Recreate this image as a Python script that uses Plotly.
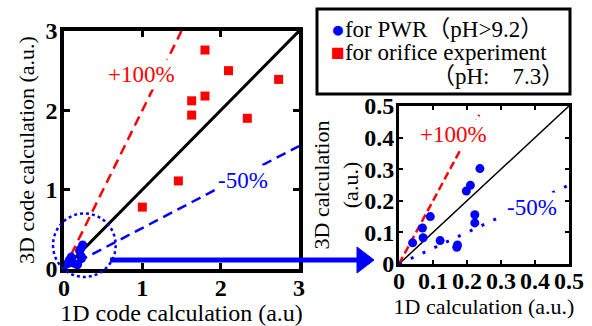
import plotly.graph_objects as go

W, H = 592, 326

# ---------------- data ----------------
# PWR data (pH > 9.2), 1D vs 3D calculation (a.u.)
pwr_1d = [0.040, 0.069, 0.071, 0.092, 0.121, 0.170, 0.172, 0.198, 0.210, 0.223, 0.223, 0.238]
pwr_3d = [0.067, 0.114, 0.083, 0.150, 0.074, 0.053, 0.060, 0.231, 0.249, 0.156, 0.130, 0.302]

# orifice experiment data (pH 7.3)
ori_1d = [1.00, 1.46, 1.63, 1.63, 1.80, 1.80, 2.10, 2.34, 2.74]
ori_3d = [0.78, 1.11, 2.12, 1.94, 2.76, 2.18, 2.50, 1.90, 2.39]

# reference lines (left panel)
L_line_x = [0, 3]
L_line_y = [0, 3]
L_p100_x = [0, 1.5]
L_p100_y = [0, 3]
L_m50_x = [0, 3]
L_m50_y = [0, 1.55]

# reference lines (right panel)
R_line_x = [0, 0.5]
R_line_y = [0, 0.5]
R_p100_x = [0, 0.236]
R_p100_y = [0, 0.472]
R_m50_x = [0, 0.5]
R_m50_y = [0, 0.25]

L_ticks = [0, 1, 2, 3]
R_ticks = [0, 0.1, 0.2, 0.3, 0.4, 0.5]
R_ticktext = ["0", "0.1", "0.2", "0.3", "0.4", "0.5"]

# zoom circle (left panel data units)
circ_cx, circ_cy, circ_r = 0.26, 0.30, 0.40

SERIF = "Liberation Serif, Times New Roman, Noto Sans CJK JP, serif"
BLUE = "#0000ff"
RED = "#ff0000"

def px_x(p):
    return p / W

def px_y(p):
    return 1 - p / H

fig = go.Figure()

# ---- left panel ----
fig.add_trace(go.Scatter(x=L_line_x, y=L_line_y, mode="lines",
                         line=dict(color="black", width=3), xaxis="x", yaxis="y", showlegend=False))
fig.add_trace(go.Scatter(x=L_p100_x, y=L_p100_y, mode="lines",
                         line=dict(color=RED, width=2.5, dash="10px,6px"), xaxis="x", yaxis="y", showlegend=False))
fig.add_trace(go.Scatter(x=L_m50_x, y=L_m50_y, mode="lines",
                         line=dict(color=BLUE, width=2.5, dash="10px,6px"), xaxis="x", yaxis="y", showlegend=False))
fig.add_trace(go.Scatter(x=ori_1d, y=ori_3d, mode="markers", name="for orifice experiment (pH: 7.3)",
                         marker=dict(symbol="square", size=9, color=RED), xaxis="x", yaxis="y",
                         showlegend=False, cliponaxis=False))
fig.add_trace(go.Scatter(x=pwr_1d, y=pwr_3d, mode="markers", name="for PWR (pH>9.2)",
                         marker=dict(symbol="circle", size=9, color=BLUE), xaxis="x", yaxis="y",
                         showlegend=False, cliponaxis=False))

# ---- right panel ----
fig.add_trace(go.Scatter(x=R_line_x, y=R_line_y, mode="lines",
                         line=dict(color="black", width=1.5), xaxis="x2", yaxis="y2", showlegend=False))
fig.add_trace(go.Scatter(x=R_p100_x, y=R_p100_y, mode="lines",
                         line=dict(color=RED, width=2.5, dash="8px,4px"), xaxis="x2", yaxis="y2", showlegend=False))
fig.add_trace(go.Scatter(x=R_m50_x, y=R_m50_y, mode="lines",
                         line=dict(color=BLUE, width=3, dash="3px,10px"), xaxis="x2", yaxis="y2", showlegend=False))
fig.add_trace(go.Scatter(x=pwr_1d, y=pwr_3d, mode="markers", name="for PWR (pH>9.2)",
                         marker=dict(symbol="circle", size=9, color=BLUE), xaxis="x2", yaxis="y2",
                         showlegend=False, cliponaxis=False))

tickfont = dict(family=SERIF, size=24, color="black", weight="bold")
titlefont = dict(family=SERIF, size=22, color="black")
titlefont_big = dict(family=SERIF, size=24, color="black")

axis_common = dict(showline=True, linecolor="black", mirror="ticks", ticks="inside",
                   tickcolor="black", showgrid=False, zeroline=False, automargin=False,
                   tickfont=tickfont)

Lx0, Lx1, Ly0, Ly1 = 64, 299, 31, 269
Rx0, Rx1, Ry0, Ry1 = 399, 569, 106, 264

fig.update_layout(
    width=W, height=H,
    margin=dict(l=0, r=0, t=0, b=0),
    template="none",
    paper_bgcolor="white", plot_bgcolor="white",
    showlegend=False,
    xaxis=dict(domain=[px_x(Lx0), px_x(Lx1)], range=[0, 3], tickvals=L_ticks,
               linewidth=3.5, ticklen=6, tickwidth=2.5, anchor="y", ticklabelstandoff=-6,
               title=dict(text="1D code calculation (a.u)", font=titlefont_big, standoff=0),
               **axis_common),
    yaxis=dict(domain=[px_y(Ly1), px_y(Ly0)], range=[0, 3], tickvals=L_ticks,
               linewidth=3.5, ticklen=6, tickwidth=2.5, anchor="x", ticklabelstandoff=-2,
               title=dict(text="3D code calculation (a.u.)", font=titlefont, standoff=6),
               **axis_common),
    xaxis2=dict(domain=[px_x(Rx0), px_x(Rx1)], range=[0, 0.5], tickvals=R_ticks,
                ticktext=R_ticktext, ticklabelstandoff=-7,
                linewidth=3, ticklen=4, tickwidth=1.5, anchor="y2",
                title=dict(text="1D calculation (a.u.)", font=titlefont, standoff=0),
                **axis_common),
    yaxis2=dict(domain=[px_y(Ry1), px_y(Ry0)], range=[0, 0.5], tickvals=R_ticks,
                ticktext=R_ticktext, ticklabelstandoff=-3,
                linewidth=3, ticklen=4, tickwidth=1.5, anchor="x2",
                title=dict(text="3D calculation<br>(a.u.)", font=titlefont, standoff=0),
                **axis_common),
)

# percentage labels (white background hides the guide lines behind them)
ann_font = dict(family=SERIF, size=23)
for x, y, xr, yr, t, c in [(0.99, 2.45, "x", "y", "+100%", RED),
                           (2.29, 1.11, "x", "y", "-50%", BLUE),
                           (0.159, 0.41, "x2", "y2", "+100%", RED),
                           (0.391, 0.18, "x2", "y2", "-50%", BLUE)]:
    fig.add_annotation(x=x, y=y, xref=xr, yref=yr, text=t, showarrow=False,
                       bgcolor="white", borderpad=2, font=dict(color=c, **ann_font))

# dotted zoom circle (not clipped: domain refs)
fig.add_shape(type="circle", xref="x domain", yref="y domain",
              x0=(circ_cx - circ_r) / 3, x1=(circ_cx + circ_r) / 3,
              y0=(circ_cy - circ_r) / 3, y1=(circ_cy + circ_r) / 3,
              line=dict(color=BLUE, width=2.5, dash="dot"))

# arrow from circle to right panel
ay = 260
fig.add_shape(type="line", xref="paper", yref="paper",
              x0=px_x(110), x1=px_x(360), y0=px_y(ay), y1=px_y(ay),
              line=dict(color=BLUE, width=5))
fig.add_shape(type="path", xref="paper", yref="paper",
              path=f"M {px_x(357)} {px_y(ay-13)} L {px_x(374)} {px_y(ay)} L {px_x(357)} {px_y(ay+13)} Z",
              fillcolor=BLUE, line=dict(color=BLUE, width=1))

# legend box
fig.add_shape(type="rect", xref="paper", yref="paper",
              x0=px_x(317), x1=px_x(570), y0=px_y(94), y1=px_y(9),
              line=dict(color="black", width=3), fillcolor="white")
leg_font = dict(family=SERIF, size=23, color="black")
fig.add_annotation(x=px_x(329), y=px_y(29), xref="paper", yref="paper", xanchor="left", yanchor="middle",
                   text=f"<span style='color:{BLUE}'>●</span>for PWR（pH>9.2）", showarrow=False, font=leg_font)
fig.add_annotation(x=px_x(329), y=px_y(53), xref="paper", yref="paper", xanchor="left", yanchor="middle",
                   text=f"<span style='color:{RED}'>■</span>for orifice experiment", showarrow=False, font=leg_font)
fig.add_annotation(x=px_x(430), y=px_y(77), xref="paper", yref="paper", xanchor="left", yanchor="middle",
                   text="（pH:　7.3）", showarrow=False, font=leg_font)

fig.write_html("out.html")
